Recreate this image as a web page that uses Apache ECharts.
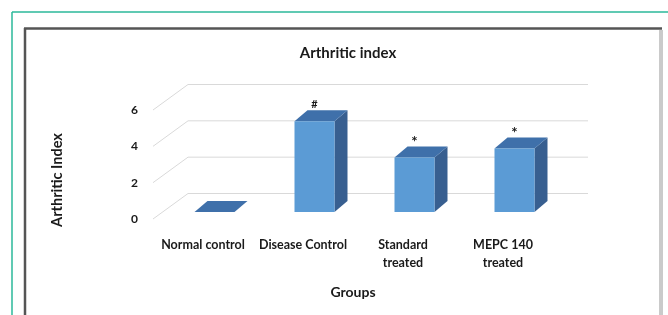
<!DOCTYPE html>
<html>
<head>
<meta charset="utf-8">
<style>
  html, body { margin: 0; padding: 0; background: #fff; }
  #chart { width: 668px; height: 315px; }
</style>
<script src="https://cdn.jsdelivr.net/npm/echarts@6/dist/echarts.min.js"></script>
</head>
<body>
<div id="chart"></div>
<script>
// values
const categories = ['Normal control', 'Disease Control', 'Standard\ntreated', 'MEPC 140\ntreated']
const arthriticIndex = [0, 5.0, 3.0, 3.5]
const significance = ['', '#', '*', '*']
const yTicks = [0, 2, 4, 6]

// 3D look (pixels)
const WALL_DEPTH = [35, -25.5]
const BAR_SHIFT = [11.5, -7]
const BAR_DEPTH = [13, -11]
const FONT = 'Lato, "Open Sans", sans-serif'

const chart = echarts.init(document.getElementById('chart'))

chart.setOption({
  animation: false,
  title: {
    text: 'Arthritic index',
    left: 343,
    top: 41,
    textAlign: 'center',
    textStyle: { fontFamily: FONT, fontSize: 15, fontWeight: 'bold', color: '#1a1a1a' }
  },
  graphic: [
    // teal page border
    { type: 'line', shape: { x1: 12, y1: 12, x2: 668, y2: 12 }, style: { stroke: '#2bb99a', lineWidth: 1.5 } },
    { type: 'line', shape: { x1: 12, y1: 12, x2: 12, y2: 315 }, style: { stroke: '#2bb99a', lineWidth: 1.5 } },
    // chart frame
    { type: 'line', shape: { x1: 24, y1: 28.5, x2: 662, y2: 28.5 }, style: { stroke: '#555', lineWidth: 2.5 } },
    { type: 'line', shape: { x1: 25, y1: 28, x2: 25, y2: 315 }, style: { stroke: '#555', lineWidth: 2.5 } },
    { type: 'rect', shape: { x: 659, y: 30, width: 4, height: 285 }, style: { fill: '#cacaca' } }
  ],
  grid: { left: 153, right: 115, top: 110, bottom: 96 },
  xAxis: {
    type: 'category',
    data: categories,
    axisLine: { show: false },
    axisTick: { show: false },
    axisLabel: { interval: 0, margin: 17, lineHeight: 18, fontFamily: FONT, fontSize: 12.5, fontWeight: 'bold', color: '#1a1a1a' },
    name: 'Groups',
    nameLocation: 'middle',
    nameGap: 66,
    nameTextStyle: { fontFamily: FONT, fontSize: 14, fontWeight: 'bold', color: '#1a1a1a' }
  },
  yAxis: {
    type: 'value',
    min: 0,
    max: 6,
    interval: 2,
    axisLine: { show: false },
    axisTick: { show: false },
    splitLine: { show: false },
    axisLabel: { margin: 15, fontFamily: FONT, fontSize: 12, fontWeight: 'bold', color: '#1a1a1a' },
    name: 'Arthritic Index',
    nameLocation: 'middle',
    nameGap: 88,
    nameRotate: 90,
    nameTextStyle: { fontFamily: FONT, fontSize: 14.5, fontWeight: 'bold', color: '#1a1a1a', padding: [0, 31, 0, 0] }
  },
  series: [
    {
      // floor edges and back-wall gridlines
      type: 'custom',
      z: 1,
      silent: true,
      data: yTicks.map(v => [0, v]),
      renderItem(params, api) {
        const p = api.coord([0, api.value(1)])
        const cs = params.coordSys
        const x0 = cs.x
        const x1 = cs.x + WALL_DEPTH[0]
        const x2 = cs.x + cs.width + WALL_DEPTH[0]
        const yb = p[1] + WALL_DEPTH[1]
        return {
          type: 'polyline',
          shape: { points: [[x0, p[1]], [x1, yb], [x2, yb]] },
          style: { stroke: '#d9d9d9', lineWidth: 1, fill: null }
        }
      }
    },
    {
      type: 'custom',
      z: 2,
      data: arthriticIndex.map((v, i) => [i, v, significance[i]]),
      renderItem(params, api) {
        const i = api.value(0)
        const base = api.coord([i, 0])
        const top = api.coord([i, api.value(1)])
        const w = api.size([1, 0])[0] * 0.4
        const xl = base[0] + BAR_SHIFT[0] - w / 2
        const xr = xl + w
        const yb = base[1] + BAR_SHIFT[1]
        const yt = top[1] + BAR_SHIFT[1]
        const dx = BAR_DEPTH[0]
        const dy = BAR_DEPTH[1]
        const children = [
          {
            type: 'polygon',
            shape: { points: [[xr, yb], [xr + dx, yb + dy], [xr + dx, yt + dy], [xr, yt]] },
            style: { fill: '#385f90' }
          },
          {
            type: 'polygon',
            shape: { points: [[xl, yt], [xr, yt], [xr + dx, yt + dy], [xl + dx, yt + dy]] },
            style: { fill: '#3f70aa' }
          }
        ]
        if (yb - yt > 0.5) {
          children.push({
            type: 'rect',
            shape: { x: xl, y: yt, width: w, height: yb - yt },
            style: { fill: '#5b9bd5' }
          })
        }
        const mark = significance[i]
        if (mark) {
          children.push({
            type: 'text',
            style: {
              text: mark,
              x: (xl + xr) / 2,
              y: yt + dy - (mark === '*' ? 4 : 6),
              align: 'center',
              verticalAlign: 'middle',
              fontFamily: FONT,
              fontSize: mark === '*' ? 15 : 11,
              fontWeight: 'bold',
              fill: '#1a1a1a'
            }
          })
        }
        return { type: 'group', children }
      }
    }
  ]
})
</script>
</body>
</html>
